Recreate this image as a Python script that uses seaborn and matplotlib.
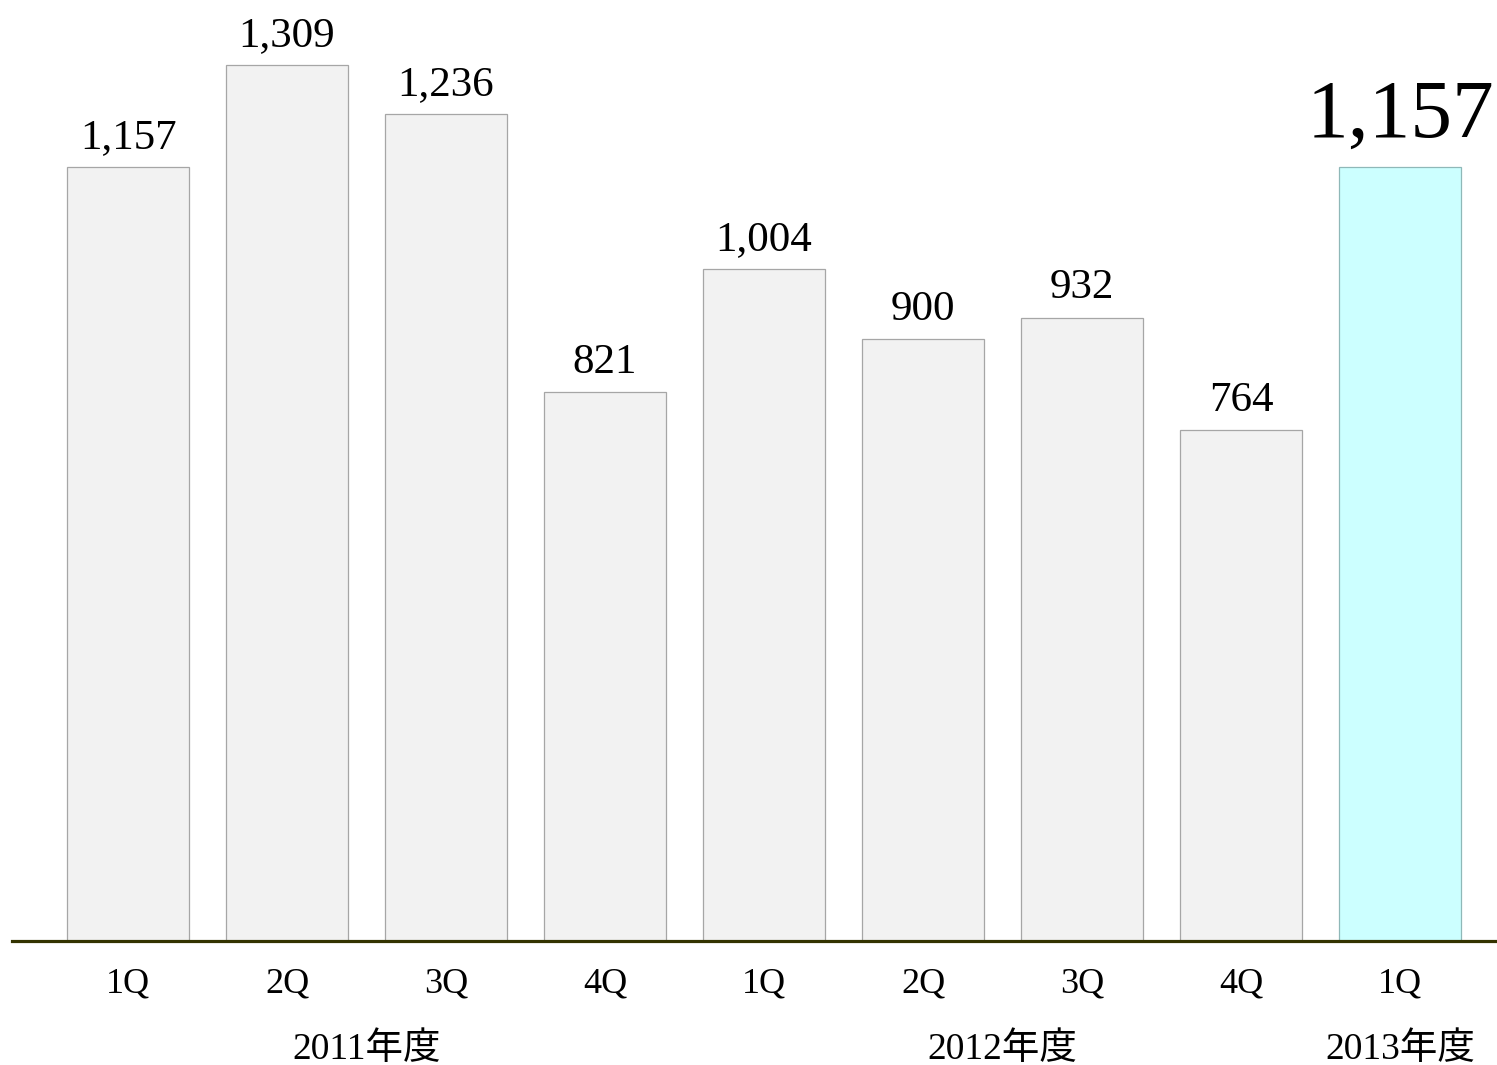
import matplotlib
matplotlib.use("Agg")
import matplotlib.pyplot as plt
import seaborn as sns
import pandas as pd
import numpy as np

quarters = ["1Q", "2Q", "3Q", "4Q", "1Q", "2Q", "3Q", "4Q", "1Q"]
values = [1157, 1309, 1236, 821, 1004, 900, 932, 764, 1157]
years = ["2011年度", "2012年度", "2013年度"]
year_pos = [1.5, 5.5, 8]
highlight = [False] * 8 + [True]

sns.set_theme(style="white")
plt.rcParams['font.family'] = ['Liberation Serif', 'Noto Sans CJK JP']

df = pd.DataFrame({"pos": list(range(len(values))), "value": values,
                   "hl": ["yes" if h else "no" for h in highlight]})

fig = plt.figure(figsize=(14.97, 10.65), dpi=100)
ax = fig.add_axes([12 / 1497, (1065 - 941) / 1065, 1 - 12 / 1497, 941 / 1065])

sns.barplot(data=df, x="pos", y="value", hue="hl",
            palette={"no": "#f2f2f2", "yes": "#ccffff"},
            width=0.767, dodge=False, legend=False, ax=ax, saturation=1)

for patch in ax.patches:
    cx = patch.get_x() + patch.get_width() / 2
    idx = int(round(cx))
    if 0 <= idx < len(values) and patch.get_height() > 0:
        patch.set_edgecolor("#8fb8b8" if highlight[idx] else "#a6a6a6")
        patch.set_linewidth(0.9)

ax.set_xlim(-0.73, 8.61)
ax.set_ylim(0, 1406.6)

for i, v in enumerate(values):
    if highlight[i]:
        ax.annotate(f"{v:,}", (i, v), xytext=(0, 21.5), textcoords="offset points",
                    ha="center", va="baseline", fontsize=60, color="black")
    else:
        ax.annotate(f"{v:,}", (i, v), xytext=(0, 13.7), textcoords="offset points",
                    ha="center", va="baseline", fontsize=31, color="black")

ax.set_xticks(range(len(quarters)))
ax.set_xticklabels(quarters, fontsize=26, color="black")
ax.tick_params(axis="x", length=0, pad=19)
ax.set_yticks([])
ax.set_xlabel("")
ax.set_ylabel("")

for s in ["top", "right", "left"]:
    ax.spines[s].set_visible(False)
ax.spines["bottom"].set_color("#333300")
ax.spines["bottom"].set_linewidth(2.3)

trans = matplotlib.transforms.blended_transform_factory(ax.transData, ax.transAxes)
for yl, xp in zip(years, year_pos):
    ax.text(xp, -109 / 941, yl, transform=trans, ha="center", va="center",
            fontsize=27, color="black")

fig.savefig("out.png", dpi=100)
